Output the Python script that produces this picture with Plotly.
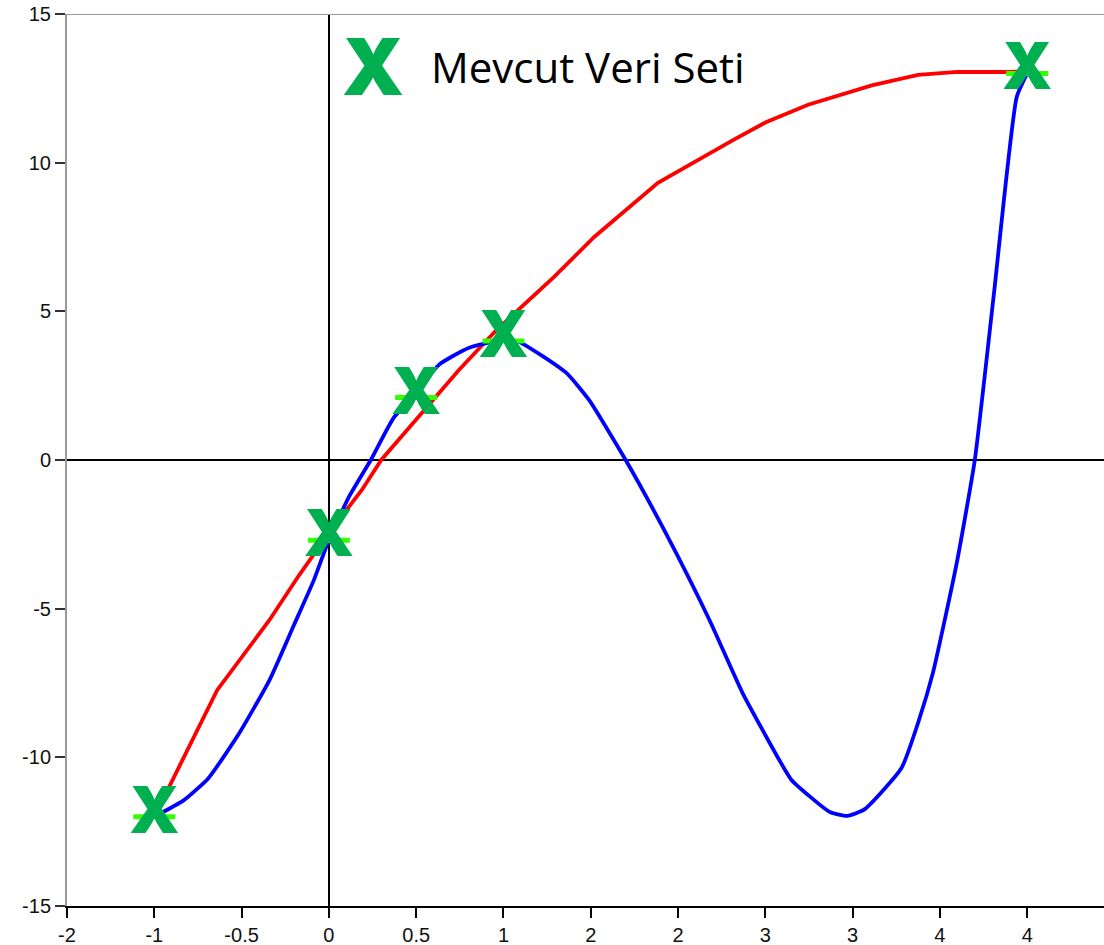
import plotly.graph_objects as go

# Known data set (the five measured points)
data_x = [-1.0, 0.0, 0.5, 1.0, 4.0]
data_y = [-12.0, -2.7, 2.1, 4.0, 13.0]

# Interpolating curve through the data set (blue)
blue_x = [-1.0, -0.83, -0.69, -0.52, -0.34, -0.20, -0.086, 0.0, 0.115, 0.24, 0.37, 0.49,
          0.63, 0.80, 1.0, 1.09, 1.36, 1.49, 1.70, 1.93, 2.18, 2.37, 2.58, 2.65, 2.87,
          2.97, 3.07, 3.28, 3.38, 3.46, 3.54, 3.60, 3.70, 3.81, 3.94, 4.0]
blue_y = [-12.0, -11.44, -10.70, -9.25, -7.40, -5.55, -4.04, -2.69, -1.24, 0.0, 1.41, 2.19,
          3.20, 3.77, 4.04, 3.97, 2.93, 2.02, 0.0, -2.46, -5.38, -7.84, -10.09, -10.76, -11.84,
          -11.97, -11.74, -10.36, -8.75, -7.16, -5.05, -3.36, 0.0, 5.62, 12.21, 13.0]

# Smooth fitted curve (red)
red_x = [-1.0, -0.64, -0.34, -0.17, 0.0, 0.19, 0.30, 0.52, 0.745, 0.96, 1.29, 1.52,
         1.885, 2.315, 2.5, 2.745, 3.0, 3.11, 3.375, 3.6, 3.87, 4.05]
red_y = [-12.0, -7.74, -5.38, -3.87, -2.45, -1.0, 0.0, 1.51, 3.03, 4.37, 6.16, 7.5,
         9.32, 10.76, 11.35, 11.95, 12.4, 12.6, 12.95, 13.05, 13.05, 13.08]

# Axis ticks
x_tickvals = [-1.5, -1.0, -0.5, 0.0, 0.5, 1.0, 1.5, 2.0, 2.5, 3.0, 3.5, 4.0]
x_ticktext = ["-2", "-1", "-0.5", "0", "0.5", "1", "2", "2", "3", "3", "4", "4"]
y_tickvals = [15, 10, 5, 0, -5, -10, -15]
y_ticktext = ["15", "10", "5", "0", "-5", "-10", "-15"]

legend_label = "Mevcut Veri Seti"

GREEN = "#00B050"
X_FONT = "Inter, Lato, Open Sans, sans-serif"
tick_font = dict(family="Liberation Sans, Arial, sans-serif", size=20, color="#111111")

fig = go.Figure()

fig.add_trace(go.Scatter(x=red_x, y=red_y, mode="lines",
                         line=dict(color="#ff0000", width=3.8), hoverinfo="skip"))
fig.add_trace(go.Scatter(x=blue_x, y=blue_y, mode="lines",
                         line=dict(color="#0000ff", width=3.8, shape="spline", smoothing=0.5),
                         hoverinfo="skip"))
# small plot markers
fig.add_trace(go.Scatter(x=data_x, y=data_y, mode="markers",
                         marker=dict(symbol="line-ew", size=30,
                                     line=dict(color="#33ff00", width=5)),
                         hoverinfo="skip"))
# large X labels on the data points
fig.add_trace(go.Scatter(x=data_x, y=data_y, mode="text", text=["X"] * len(data_x),
                         textposition="middle center",
                         textfont=dict(family=X_FONT, size=64, color=GREEN, weight=900),
                         hoverinfo="skip"))

# legend entry
fig.add_annotation(x=0.252, y=13.25, xref="x", yref="y", text="X", showarrow=False,
                   font=dict(family=X_FONT, size=79, color=GREEN, weight=900),
                   xanchor="center", yanchor="middle")
fig.add_annotation(x=0.573, y=13.25, xref="x", yref="y", text=legend_label, showarrow=False,
                   font=dict(family="Open Sans, sans-serif", size=42, color="#000000"),
                   xanchor="left", yanchor="middle")

# top border
fig.add_shape(type="line", xref="paper", yref="y", x0=0, x1=1, y0=15, y1=15,
              line=dict(color="#9a9a9a", width=2))

fig.update_layout(
    width=1104, height=945,
    margin=dict(l=67, r=0, t=14, b=39),
    paper_bgcolor="white", plot_bgcolor="white",
    showlegend=False,
    xaxis=dict(range=[-1.5, 4.44], tickvals=x_tickvals, ticktext=x_ticktext,
               showgrid=False, zeroline=True, zerolinecolor="#000000", zerolinewidth=2,
               showline=True, linecolor="#000000", linewidth=2,
               ticks="outside", ticklen=10, tickwidth=2, tickcolor="#000000",
               tickfont=tick_font),
    yaxis=dict(range=[-15, 15], tickvals=y_tickvals, ticktext=y_ticktext,
               showgrid=False, zeroline=True, zerolinecolor="#000000", zerolinewidth=2,
               showline=True, linecolor="#9a9a9a", linewidth=2,
               ticks="outside", ticklen=10, tickwidth=2, tickcolor="#333333",
               tickfont=tick_font),
)

fig.write_html("out.html")
